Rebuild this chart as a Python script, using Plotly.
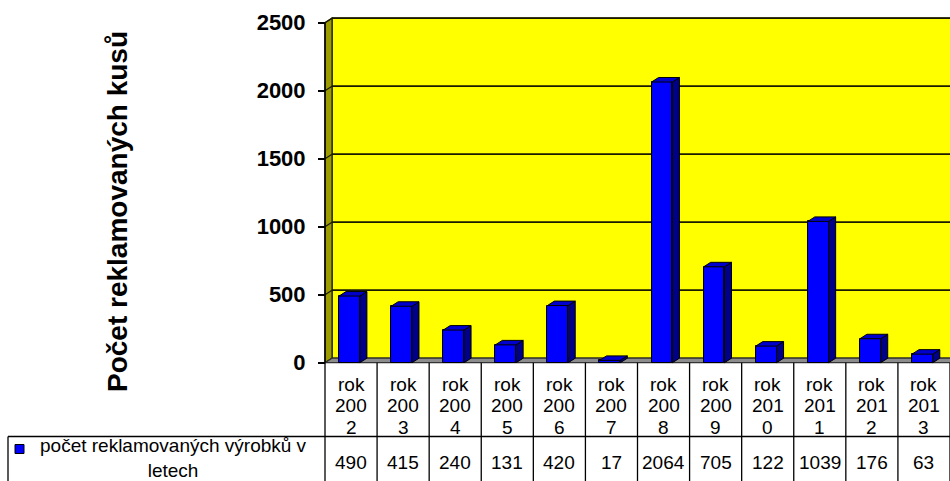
import plotly.graph_objects as go

# ---------------- data ----------------
categories = ["rok 2002", "rok 2003", "rok 2004", "rok 2005", "rok 2006", "rok 2007",
              "rok 2008", "rok 2009", "rok 2010", "rok 2011", "rok 2012", "rok 2013"]
values = [490, 415, 240, 131, 420, 17, 2064, 705, 122, 1039, 176, 63]
series_name = "počet reklamovaných výrobků v letech"
y_title = "Počet reklamovaných kusů"
y_ticks = [0, 500, 1000, 1500, 2000, 2500]

# ---------------- geometry (pixel layout) ----------------
W, H = 950, 481
n = len(categories)
PX_LEFT, PX_RIGHT = 325.0, 950.0          # x of category -0.5 and n-0.5
PY_ZERO, PY_TOP = 362.7, 22.7             # y pixel of 0 and 2500
U = (PX_RIGHT - PX_LEFT) / n              # px per category
PY = (PY_ZERO - PY_TOP) / y_ticks[-1]     # px per value unit
X0 = -0.5 - PX_LEFT / U
X1 = (n - 0.5) + (W - PX_RIGHT) / U
YMAX = PY_ZERO / PY
YMIN = -(H - PY_ZERO) / PY
DXU = 7.0 / U        # depth offset in x units
DYD = 4.5 / PY       # depth offset in y units

def paper_y(q):
    return 1 - q / H

def px_to_x(p):
    return -0.5 + (p - PX_LEFT) / U

BLUE = "#0000FF"
TOP = "#0000CC"
SIDE = "#000088"
YELLOW = "#FFFF00"
OLIVE = "#9C9C00"
FLOOR = "#8C8C8C"
FONT = "Liberation Sans"

fig = go.Figure()

shapes = []
# back wall
shapes.append(dict(type="rect", xref="x", yref="y", layer="below",
                   x0=-0.5 + DXU, x1=X1 + 1, y0=DYD, y1=y_ticks[-1] + DYD,
                   fillcolor=YELLOW, line=dict(color="#222200", width=1.5)))
# side wall
shapes.append(dict(type="path", xref="x", yref="y", layer="below",
                   path=f"M{-0.5},{0} L{-0.5 + DXU},{DYD} L{-0.5 + DXU},{y_ticks[-1] + DYD} L{-0.5},{y_ticks[-1]} Z",
                   fillcolor=OLIVE, line=dict(color="#222200", width=1.2)))
# floor
shapes.append(dict(type="path", xref="x", yref="y", layer="below",
                   path=f"M{-0.5},{0} L{X1 + 1},{0} L{X1 + 1},{DYD} L{-0.5 + DXU},{DYD} Z",
                   fillcolor=FLOOR, line=dict(color="#333333", width=1.2)))
# gridlines on back wall + side wall diagonals
for t in y_ticks[1:]:
    shapes.append(dict(type="line", xref="x", yref="y", layer="below",
                       x0=-0.5 + DXU, x1=X1 + 1, y0=t + DYD, y1=t + DYD,
                       line=dict(color="#1a1a00", width=1.8)))
    shapes.append(dict(type="line", xref="x", yref="y", layer="below",
                       x0=-0.5, x1=-0.5 + DXU, y0=t, y1=t + DYD,
                       line=dict(color="#1a1a00", width=1.2)))
# front axis line
shapes.append(dict(type="line", xref="x", yref="y", layer="above",
                   x0=-0.5, x1=-0.5, y0=0, y1=y_ticks[-1],
                   line=dict(color="black", width=1.5)))

# bars: front faces
fig.add_trace(go.Bar(x=[i - 0.03 for i in range(n)], y=values, width=0.40,
                     marker=dict(color=BLUE, line=dict(color="black", width=1)),
                     showlegend=False, hoverinfo="skip"))
# bar tops & sides
tx, ty, sx, sy = [], [], [], []
for i, v in enumerate(values):
    a, b = i - 0.23, i + 0.17
    tx += [a, a + DXU, b + DXU, b, a, None]
    ty += [v, v + DYD, v + DYD, v, v, None]
    sx += [b, b, b + DXU, b + DXU, b, None]
    sy += [0, v, v + DYD, DYD, 0, None]
fig.add_trace(go.Scatter(x=sx, y=sy, mode="lines", fill="toself", fillcolor=SIDE,
                         line=dict(color="black", width=1), showlegend=False, hoverinfo="skip"))
fig.add_trace(go.Scatter(x=tx, y=ty, mode="lines", fill="toself", fillcolor=TOP,
                         line=dict(color="black", width=1), showlegend=False, hoverinfo="skip"))

# ---------------- data table ----------------
ROW_SPLIT = 436.5
for i in range(n + 1):
    shapes.append(dict(type="line", xref="x", yref="paper", layer="above",
                       x0=i - 0.5, x1=i - 0.5, y0=paper_y(PY_ZERO), y1=0,
                       line=dict(color="black", width=1.3)))
shapes.append(dict(type="line", xref="x", yref="paper", layer="above",
                   x0=px_to_x(8), x1=n - 0.5, y0=paper_y(ROW_SPLIT), y1=paper_y(ROW_SPLIT),
                   line=dict(color="black", width=1.3)))
shapes.append(dict(type="line", xref="x", yref="paper", layer="above",
                   x0=px_to_x(8), x1=px_to_x(8), y0=paper_y(ROW_SPLIT), y1=0,
                   line=dict(color="black", width=1.3)))
# legend key
shapes.append(dict(type="rect", xref="x", yref="paper", layer="above",
                   x0=px_to_x(15), x1=px_to_x(24), y0=paper_y(453.5), y1=paper_y(444.5),
                   fillcolor=BLUE, line=dict(color="black", width=1)))

annotations = []
TFS = 19
for i, cat in enumerate(categories):
    word, year = cat.split(" ")
    lines = [word, year[:3], year[3:]]
    for k, ln in enumerate(lines):
        annotations.append(dict(x=i, y=paper_y(384 + k * 21.5), xref="x", yref="paper",
                                text=ln, showarrow=False, xanchor="center", yanchor="middle",
                                font=dict(family=FONT, size=TFS, color="black")))
    annotations.append(dict(x=i, y=paper_y(462), xref="x", yref="paper",
                            text=str(values[i]), showarrow=False, xanchor="center", yanchor="middle",
                            font=dict(family=FONT, size=TFS, color="black")))
# legend text (wrapped in two lines as in the cell)
leg1, leg2 = series_name.rsplit(" ", 1)
annotations.append(dict(x=px_to_x(173), y=paper_y(458), xref="x", yref="paper",
                        text=leg1 + "<br>" + leg2, showarrow=False, align="center",
                        xanchor="center", yanchor="middle",
                        font=dict(family=FONT, size=TFS, color="black")))
# y-axis title
annotations.append(dict(x=117 / W, y=paper_y(212), xref="paper", yref="paper",
                        text=y_title, textangle=-90, showarrow=False,
                        xanchor="center", yanchor="middle",
                        font=dict(family=FONT, size=28, color="black", weight="bold")))

fig.update_layout(
    width=W, height=H,
    margin=dict(l=0, r=0, t=0, b=0),
    paper_bgcolor="white", plot_bgcolor="white",
    shapes=shapes, annotations=annotations,
    bargap=0,
    xaxis=dict(range=[X0, X1], visible=False, fixedrange=True),
    yaxis=dict(range=[YMIN, YMAX], domain=[0, 1], anchor="free", position=PX_LEFT / W,
               showgrid=False, zeroline=False, showline=False,
               tickvals=y_ticks, ticktext=[str(t) for t in y_ticks],
               ticks="outside", ticklen=7, tickwidth=1.5, tickcolor="black",
               ticklabelstandoff=8,
               tickfont=dict(family=FONT, size=22, color="black", weight="bold")),
    showlegend=False,
)

fig.write_html("out.html")
